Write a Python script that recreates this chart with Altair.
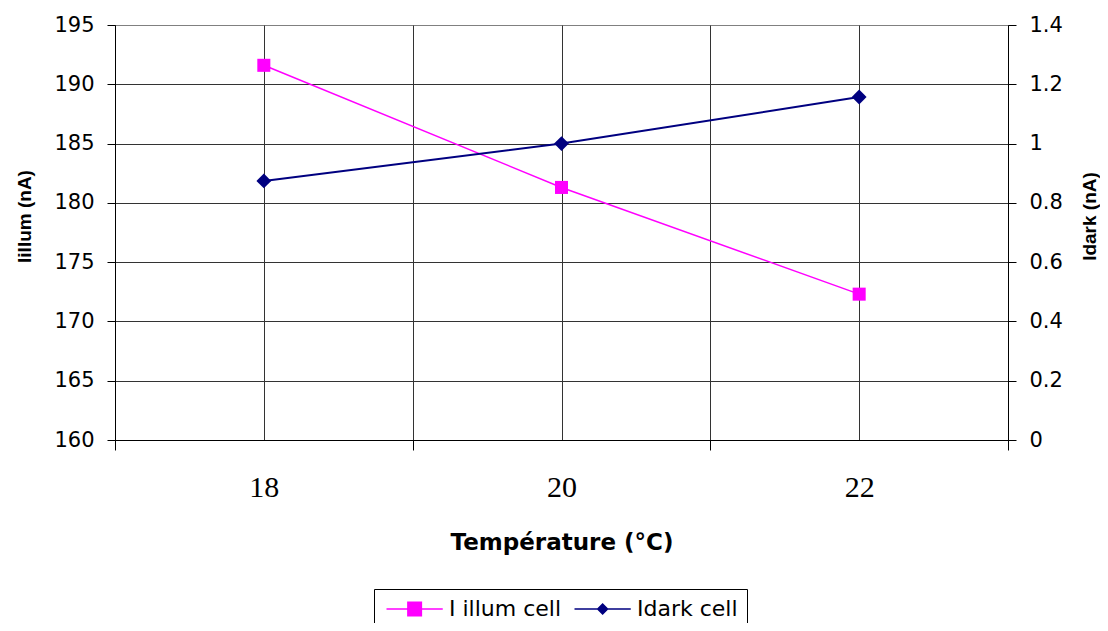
import altair as alt
import pandas as pd

temps = [18, 20, 22]
illum = [191.6, 181.3, 172.3]
dark = [0.874, 1.0, 1.157]
series = ["I illum cell", "Idark cell"]
colors = ["#FF00FF", "#000080"]
left_ticks = [160, 165, 170, 175, 180, 185, 190, 195]
right_ticks = [0, 0.2, 0.4, 0.6, 0.8, 1.0, 1.2, 1.4]
x_ticks = [17, 18, 19, 20, 21, 22, 23]

df = pd.DataFrame({"temp": temps, "illum": illum, "dark": dark})
# legend symbols: a line with the marker in its middle (unit = half of sqrt(symbolSize))
sym_sq = "M-1,-0.1H6.5V0.1H-1Z M1.75,-1H3.75V1H1.75Z"
sym_di = "M-1,-0.1H6.5V0.1H-1Z M2.75,-0.8L3.55,0L2.75,0.8L1.95,0Z"

x_enc = alt.X(
    "temp:Q",
    scale=alt.Scale(domain=[17, 23], nice=False, zero=False),
    axis=alt.Axis(
        values=x_ticks,
        title="Température (°C)",
        labelExpr="datum.value % 2 == 0 ? datum.label : ''",
        tickColor={"condition": {"test": "datum.value % 2 == 1", "value": "black"}, "value": "transparent"},
        tickSize=10,
        labelFont="Liberation Serif",
        labelFontSize=30,
        labelPadding=22,
        titleFont="DejaVu Sans",
        titleFontSize=23,
        titleFontWeight="bold",
        titlePadding=29,
        grid=True,
        gridColor="#333333",
    ),
)

base = alt.Chart(df)

y_left = alt.Y(
    "illum:Q",
    scale=alt.Scale(domain=[160, 195], nice=False, zero=False),
    axis=alt.Axis(
        orient="left",
        values=left_ticks,
        title="Iillum (nA)",
        titleY=191,
        grid=True,
        gridColor={"condition": {"test": "datum.value == 195", "value": "transparent"}, "value": "#333333"},
        tickSize=8,
        labelPadding=13,
        titlePadding=19,
    ),
)
y_right = alt.Y(
    "dark:Q",
    scale=alt.Scale(domain=[0, 1.4], nice=False),
    axis=alt.Axis(
        orient="right",
        values=right_ticks,
        format="~g",
        title="Idark (nA)",
        titleAngle=270,
        titleY=191,
        grid=False,
        tickSize=8,
        labelPadding=13,
        titlePadding=37,
    ),
)

left_line = base.mark_line(color=colors[0], strokeWidth=1.5).encode(x=x_enc, y=y_left)
left_pts = base.mark_point(shape="square", filled=True, size=170, color=colors[0], opacity=1).encode(x=x_enc, y=y_left)
right_line = base.mark_line(color=colors[1], strokeWidth=2).encode(x=x_enc, y=y_right)
right_pts = base.mark_point(shape="diamond", filled=True, size=220, color=colors[1], opacity=1).encode(x=x_enc, y=y_right)

legend_layer = (
    alt.Chart(pd.DataFrame({"series": series}))
    .transform_filter("false")
    .mark_point(filled=True, opacity=1)
    .encode(
        color=alt.Color(
            "series:N",
            scale=alt.Scale(domain=series, range=colors),
            legend=alt.Legend(
                title=None,
                orient="none",
                legendX=259,
                legendY=564,
                direction="horizontal",
                strokeColor="black",
                fillColor="white",
                padding=9,
                symbolSize=225,
                symbolStrokeWidth=0,
                labelFont="DejaVu Sans",
                labelFontSize=22,
                labelColor="black",
                labelOffset=44,
                columnPadding=9,
            ),
        ),
        shape=alt.Shape("series:N", scale=alt.Scale(domain=series, range=[sym_sq, sym_di]), legend=None),
    )
)

chart = (
    alt.layer(alt.layer(left_line, left_pts), alt.layer(right_line, right_pts), legend_layer)
    .resolve_scale(y="independent")
    .properties(
        width=893,
        height=415,
        padding={"left": 107, "top": 17, "right": 92, "bottom": 183},
        autosize=alt.AutoSizeParams(type="none"),
        background="white",
    )
    .configure_view(fill="#FFFFCC", stroke="#808080")
    .configure_axis(
        domainColor="black",
        tickColor="black",
        labelColor="black",
        titleColor="black",
        labelFont="DejaVu Sans",
        labelFontSize=21,
        titleFont="Liberation Sans",
        titleFontSize=19,
        titleFontWeight="bold",
    )
)

chart.save("out.html", embed_options={"renderer": "svg", "actions": False})
